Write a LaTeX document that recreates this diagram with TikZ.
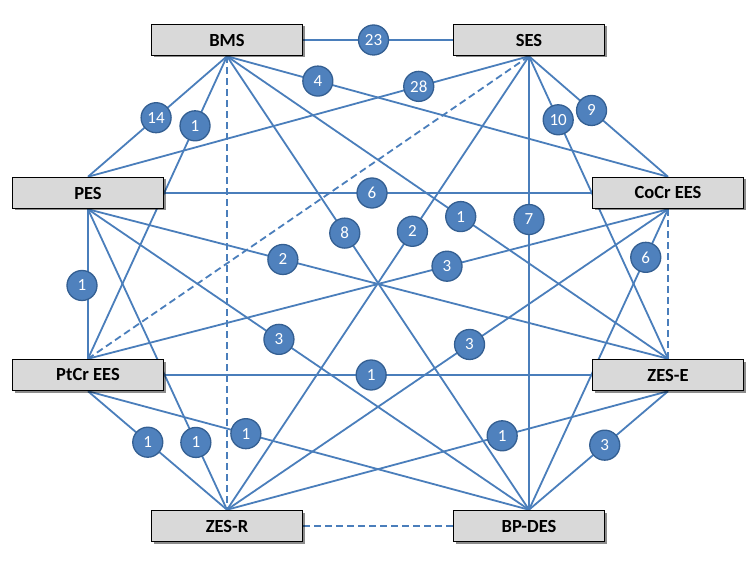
\documentclass[tikz,border=0pt]{standalone}
\usepackage{fontspec}
\setmainfont{Carlito}
\usetikzlibrary{shadows}
\definecolor{linkblue}{HTML}{4A7EBB}
\definecolor{circfill}{HTML}{4F81BD}
\definecolor{circdraw}{HTML}{345F92}
\definecolor{boxfill}{HTML}{D9D9D9}
\pgfdeclarelayer{bg}
\pgfsetlayers{bg,main}
\begin{document}
\begin{tikzpicture}[x=1pt,y=-1pt,
  box/.style={draw=black, line width=1.5pt, fill=boxfill, minimum width=151pt, minimum height=31pt, inner sep=0pt,
    font=\fontsize{18.5}{20}\selectfont\bfseries,
    drop shadow={shadow xshift=2pt, shadow yshift=-2pt, opacity=0.45, fill=black}},
  lab/.style={circle, draw=circdraw, line width=1.3pt, fill=circfill, minimum size=30pt, inner sep=0pt,
    text=white, font=\fontsize{17}{18}\selectfont},
  link/.style={draw=linkblue, line width=1.8pt},
  nolink/.style={link, dash pattern=on 7pt off 4pt}]
\useasboundingbox (0,0) rectangle (756,567);
% boxes
\node[box] (bms)   at (227,40)  {BMS};
\node[box] (ses)   at (529,40)  {SES};
\node[box] (pes)   at (88,193)  {PES};
\node[box] (cocr)  at (668,193) {CoCr EES};
\node[box] (ptcr)  at (88,375)  {PtCr EES};
\node[box] (zese)  at (668,375) {ZES-E};
\node[box] (zesr)  at (227,526) {ZES-R};
\node[box] (bpdes) at (529,526) {BP-DES};
% connectors
\begin{pgfonlayer}{bg}
\fill[white] (0,0) rectangle (756,567);
\path[link] (bms.east) -- (ses.west) coordinate[pos=.47] (c23);
\path[link] (bms.south) -- (pes.north) coordinate[pos=.51] (c14);
\path[link] (bms.south) -- (ptcr.north) coordinate[pos=.23] (c1a);
\path[nolink] (bms.south) -- (zesr.north);
\path[link] (bms.south) -- (bpdes.north) coordinate[pos=.39] (c8);
\path[link] (bms.south) -- (cocr.north) coordinate[pos=.206] (c4);
\path[link] (bms.south) -- (zese.north) coordinate[pos=.53] (c1b);
\path[link] (ses.south) -- (pes.north) coordinate[pos=.25] (c28);
\path[nolink] (ses.south) -- (ptcr.north);
\path[link] (ses.south) -- (zesr.north) coordinate[pos=.386] (c2a);
\path[link] (ses.south) -- (bpdes.north) coordinate[pos=.36] (c7);
\path[link] (ses.south) -- (zese.north) coordinate[pos=.21] (c10);
\path[link] (ses.south) -- (cocr.north) coordinate[pos=.45] (c9);
\path[link] (pes.east) -- (cocr.west) coordinate[pos=.486] (c6a);
\path[link] (pes.south) -- (ptcr.north) coordinate[pos=.51] (c1c);
\path[link] (pes.south) -- (zese.north) coordinate[pos=.336] (c2b);
\path[link] (pes.south) -- (bpdes.north) coordinate[pos=.433] (c3a);
\path[link] (pes.south) -- (zesr.north) coordinate[pos=.776] (c1d);
\path[link] (ptcr.north) -- (cocr.south) coordinate[pos=.619] (c3b);
\path[link] (ptcr.east) -- (zese.west) coordinate[pos=.484] (c1e);
\path[link] (ptcr.south) -- (zesr.north) coordinate[pos=.43] (c1f);
\path[link] (ptcr.south) -- (bpdes.north) coordinate[pos=.358] (c1g);
\path[link] (cocr.south) -- (bpdes.north) coordinate[pos=.16] (c6b);
\path[link] (cocr.south) -- (zesr.north) coordinate[pos=.45] (c3c);
\path[nolink] (cocr.south) -- (zese.north);
\path[link] (zese.south) -- (zesr.north) coordinate[pos=.376] (c1h);
\path[link] (zese.south) -- (bpdes.north) coordinate[pos=.455] (c3d);
\path[nolink] (zesr.east) -- (bpdes.west);
\end{pgfonlayer}
% labels
\node[lab] (n23) at (c23) {23};
\node[lab] (n14) at (c14) {14};
\node[lab] (n1a) at (c1a) {1};
\node[lab] (n8)  at (c8)  {8};
\node[lab] (n4)  at (c4)  {4};
\node[lab] (n1b) at (c1b) {1};
\node[lab] (n28) at (c28) {28};
\node[lab] (n2a) at (c2a) {2};
\node[lab] (n7)  at (c7)  {7};
\node[lab] (n10) at (c10) {10};
\node[lab] (n9)  at (c9)  {9};
\node[lab] (n6a) at (c6a) {6};
\node[lab, xshift=-6pt] (n1c) at (c1c) {1};
\node[lab] (n2b) at (c2b) {2};
\node[lab] (n3a) at (c3a) {3};
\node[lab] (n1d) at (c1d) {1};
\node[lab] (n3b) at (c3b) {3};
\node[lab] (n1e) at (c1e) {1};
\node[lab] (n1f) at (c1f) {1};
\node[lab] (n1g) at (c1g) {1};
\node[lab] (n6b) at (c6b) {6};
\node[lab] (n3c) at (c3c) {3};
\node[lab] (n1h) at (c1h) {1};
\node[lab] (n3d) at (c3d) {3};
\end{tikzpicture}
\end{document}
